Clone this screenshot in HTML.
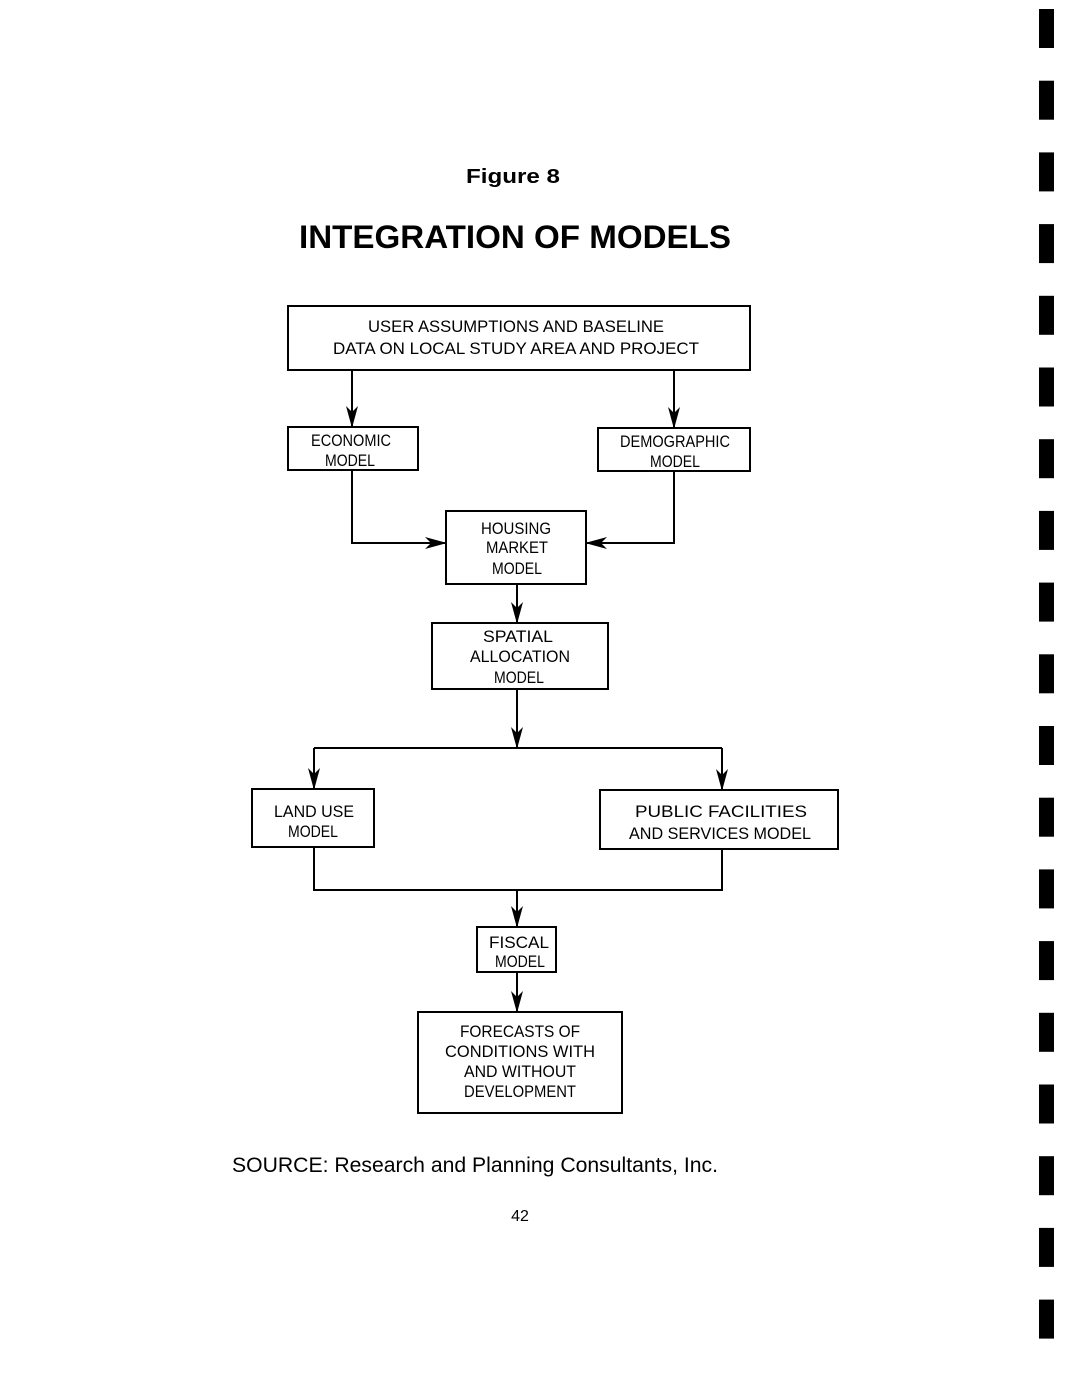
<!DOCTYPE html>
<html><head><meta charset="utf-8"><style>
html,body{margin:0;padding:0;background:#fff;}
svg{display:block;}
</style></head><body>
<svg width="1067" height="1379" viewBox="0 0 1067 1379" xmlns="http://www.w3.org/2000/svg">
<defs>
<marker id="a" markerWidth="22" markerHeight="14" refX="21" refY="7" orient="auto" markerUnits="userSpaceOnUse" viewBox="0 0 22 14"><path d="M0,1 L22,7 L0,13 L6,7 Z" fill="#000"/></marker>
</defs>
<g id="bars" fill="#000">
<rect x="1039" y="9" width="15" height="39"/><rect x="1039" y="80.7" width="15" height="39"/><rect x="1039" y="152.4" width="15" height="39"/><rect x="1039" y="224.1" width="15" height="39"/><rect x="1039" y="295.8" width="15" height="39"/><rect x="1039" y="367.5" width="15" height="39"/><rect x="1039" y="439.2" width="15" height="39"/><rect x="1039" y="510.9" width="15" height="39"/><rect x="1039" y="582.6" width="15" height="39"/><rect x="1039" y="654.3" width="15" height="39"/><rect x="1039" y="726" width="15" height="39"/><rect x="1039" y="797.7" width="15" height="39"/><rect x="1039" y="869.4" width="15" height="39"/><rect x="1039" y="941.1" width="15" height="39"/><rect x="1039" y="1012.8" width="15" height="39"/><rect x="1039" y="1084.5" width="15" height="39"/><rect x="1039" y="1156.2" width="15" height="39"/><rect x="1039" y="1227.9" width="15" height="39"/><rect x="1039" y="1299.6" width="15" height="39"/>
</g>
<g font-family="Liberation Sans, Arial, sans-serif" font-weight="bold" text-anchor="middle">
<text x="513" y="183" font-size="20" textLength="94" lengthAdjust="spacingAndGlyphs">Figure 8</text>
<text x="515" y="248" font-size="32" textLength="432" lengthAdjust="spacingAndGlyphs">INTEGRATION OF MODELS</text>
</g>
<g fill="none" stroke="#000" stroke-width="2">
<rect x="288" y="306" width="462" height="64"/>
<rect x="288" y="427" width="130" height="43"/>
<rect x="598" y="428" width="152" height="43"/>
<rect x="446" y="511" width="140" height="73"/>
<rect x="432" y="623" width="176" height="66"/>
<rect x="252" y="789" width="122" height="58"/>
<rect x="600" y="790" width="238" height="59"/>
<rect x="477" y="927" width="79" height="45"/>
<rect x="418" y="1012" width="204" height="101"/>
<line x1="352" y1="370" x2="352" y2="427" marker-end="url(#a)"/>
<line x1="674" y1="370" x2="674" y2="428" marker-end="url(#a)"/>
<polyline points="352,470 352,543 446,543" marker-end="url(#a)"/>
<polyline points="674,471 674,543 586,543" marker-end="url(#a)"/>
<line x1="517" y1="584" x2="517" y2="623" marker-end="url(#a)"/>
<line x1="517" y1="689" x2="517" y2="748" marker-end="url(#a)"/>
<line x1="314" y1="748" x2="722" y2="748"/>
<line x1="314" y1="748" x2="314" y2="789" marker-end="url(#a)"/>
<line x1="722" y1="748" x2="722" y2="790" marker-end="url(#a)"/>
<polyline points="314,847 314,890 722,890 722,849"/>
<line x1="517" y1="890" x2="517" y2="927" marker-end="url(#a)"/>
<line x1="517" y1="972" x2="517" y2="1012" marker-end="url(#a)"/>
</g>
<g font-family="Liberation Sans, Arial, sans-serif" font-size="17" text-anchor="middle" fill="#000">
<text x="516" y="332" textLength="296" lengthAdjust="spacingAndGlyphs">USER ASSUMPTIONS AND BASELINE</text>
<text x="516" y="354" textLength="366" lengthAdjust="spacingAndGlyphs">DATA ON LOCAL STUDY AREA AND PROJECT</text>
<text x="351" y="446" textLength="80" lengthAdjust="spacingAndGlyphs">ECONOMIC</text>
<text x="350" y="466" textLength="50" lengthAdjust="spacingAndGlyphs">MODEL</text>
<text x="675" y="447" textLength="110" lengthAdjust="spacingAndGlyphs">DEMOGRAPHIC</text>
<text x="675" y="467" textLength="50" lengthAdjust="spacingAndGlyphs">MODEL</text>
<text x="516" y="534" textLength="70" lengthAdjust="spacingAndGlyphs">HOUSING</text>
<text x="517" y="553" textLength="62" lengthAdjust="spacingAndGlyphs">MARKET</text>
<text x="517" y="574" textLength="50" lengthAdjust="spacingAndGlyphs">MODEL</text>
<text x="518" y="642" textLength="70" lengthAdjust="spacingAndGlyphs">SPATIAL</text>
<text x="520" y="662" textLength="100" lengthAdjust="spacingAndGlyphs">ALLOCATION</text>
<text x="519" y="683" textLength="50" lengthAdjust="spacingAndGlyphs">MODEL</text>
<text x="314" y="817" textLength="80" lengthAdjust="spacingAndGlyphs">LAND USE</text>
<text x="313" y="837" textLength="50" lengthAdjust="spacingAndGlyphs">MODEL</text>
<text x="721" y="817" textLength="172" lengthAdjust="spacingAndGlyphs">PUBLIC FACILITIES</text>
<text x="720" y="839" textLength="182" lengthAdjust="spacingAndGlyphs">AND SERVICES MODEL</text>
<text x="519" y="948" textLength="60" lengthAdjust="spacingAndGlyphs">FISCAL</text>
<text x="520" y="967" textLength="50" lengthAdjust="spacingAndGlyphs">MODEL</text>
<text x="520" y="1037" textLength="120" lengthAdjust="spacingAndGlyphs">FORECASTS OF</text>
<text x="520" y="1057" textLength="150" lengthAdjust="spacingAndGlyphs">CONDITIONS WITH</text>
<text x="520" y="1077" textLength="112" lengthAdjust="spacingAndGlyphs">AND WITHOUT</text>
<text x="520" y="1097" textLength="112" lengthAdjust="spacingAndGlyphs">DEVELOPMENT</text>
</g>
<text x="232" y="1172" font-family="Liberation Sans, Arial, sans-serif" font-size="21" textLength="486" lengthAdjust="spacingAndGlyphs">SOURCE: Research and Planning Consultants, Inc.</text>
<text x="520" y="1221" font-family="Liberation Sans, Arial, sans-serif" font-size="16" text-anchor="middle">42</text>
</svg>
</body></html>
